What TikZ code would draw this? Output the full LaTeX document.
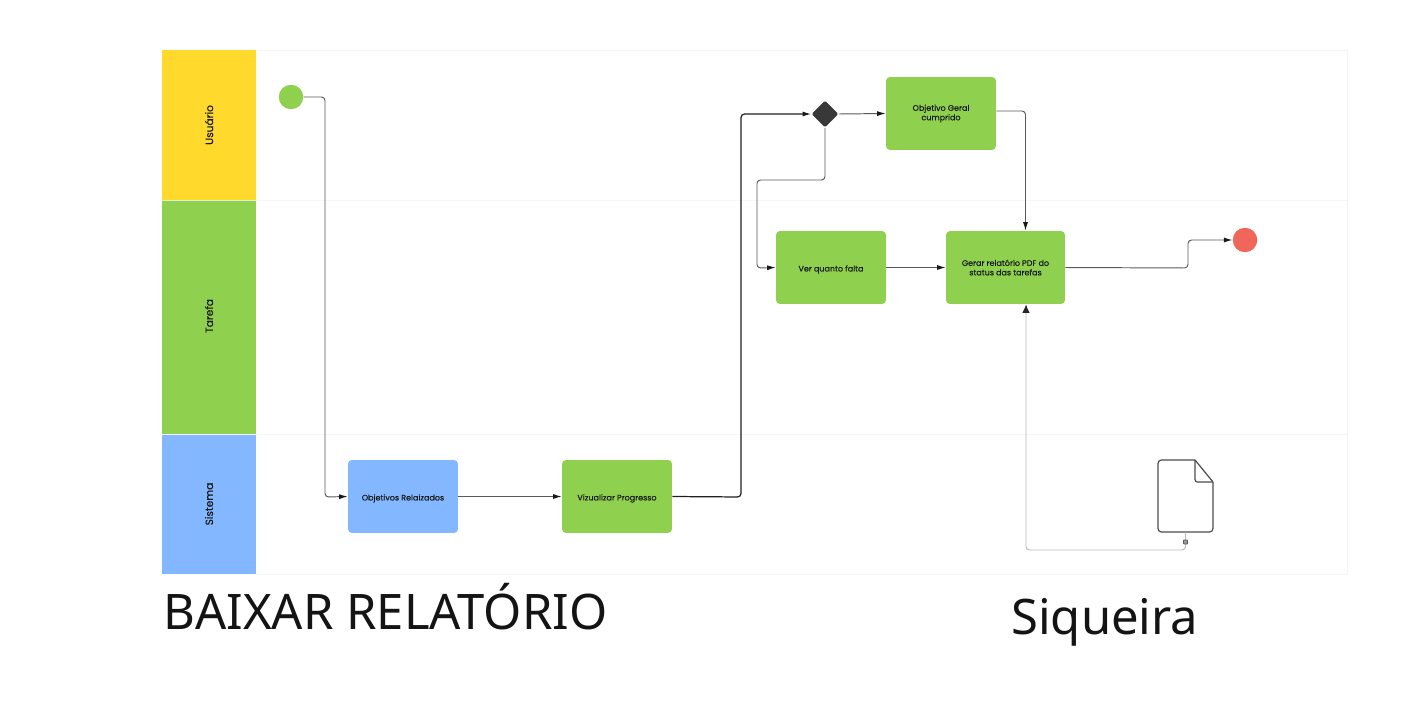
\documentclass[tikz,border=0pt]{standalone}
\usepackage{fontspec}
\setmainfont{Poppins}[FakeBold=0.25]
\newfontfamily\titlefont{Noto Sans}
\usetikzlibrary{arrows.meta,shapes.geometric}
\definecolor{laneyellow}{HTML}{FFDA2D}
\definecolor{lanegreen}{HTML}{8FD14F}
\definecolor{laneblue}{HTML}{83B7FF}
\definecolor{endred}{HTML}{F0665A}
\definecolor{gridgray}{HTML}{F5F5F5}
\begin{document}
\begin{tikzpicture}[x=0.02cm, y=-0.02cm,
  lane/.style={minimum width=1.88cm, inner sep=0pt},
  lanetext/.style={rotate=90, font=\fontsize{6}{7}\selectfont, text=black!90},
  task/.style={rectangle, rounded corners=0.08cm, minimum height=1.46cm, inner sep=0pt, align=center, font=\fontsize{4.55}{5.4}\selectfont, text=black!90, execute at begin node={\rule{0pt}{5.7pt}}},
  flow/.style={draw=black!65, line width=0.55pt, rounded corners=0.07cm, -{Latex[length=1.7mm, width=1mm, black!90]}},
  title/.style={font=\titlefont\fontsize{27.88}{30}\selectfont, text=black!92, inner sep=0pt, anchor=base west}]
  \useasboundingbox (0,0) rectangle (1407,710);
  % lanes
  \foreach \y in {50,200,434,574}
    \draw[gridgray, line width=0.4pt] (256,\y) -- (1347,\y);
  \draw[gridgray, line width=0.4pt] (1347,50) -- (1347,574);
  \node[lane, fill=laneyellow, minimum height=3cm] (usuario) at (209,125) {};
  \node[lane, fill=lanegreen, minimum height=4.68cm] (tarefa) at (209,317) {};
  \node[lane, fill=laneblue, minimum height=2.8cm] (sistema) at (209,504) {};
  \draw[white!70!lanegreen, line width=0.3pt] (usuario.south west) -- (usuario.south east);
  \draw[white, line width=0.3pt] (tarefa.south west) -- (tarefa.south east);
  \node[lanetext] (usuariotxt) at (209,125) {Usuário};
  \node[lanetext] (tarefatxt) at (209,316) {Tarefa};
  \node[lanetext] (sistematxt) at (209,504) {Sistema};
  % tasks
  \node[task, fill=laneblue, minimum width=2.2cm] (objetivos) at (403,496.5) {Objetivos Relaizados};
  \node[task, fill=lanegreen, minimum width=2.2cm] (vizualizar) at (617,496.5) {Vizualizar Progresso};
  \node[task, fill=lanegreen, minimum width=2.2cm] (verfalta) at (831,267.5) {Ver quanto falta};
  \node[task, fill=lanegreen, minimum width=2.38cm] (gerar) at (1005.5,267.5) {Gerar relatório PDF do\\status das tarefas};
  \node[task, fill=lanegreen, minimum width=2.2cm] (geral) at (941,113.5) {Objetivo Geral\\cumprido};
  \node[circle, fill=lanegreen, minimum size=0.49cm, inner sep=0pt] (inicio) at (291,97) {};
  \node[circle, fill=endred, minimum size=0.49cm, inner sep=0pt] (fim) at (1245,240) {};
  \node[diamond, fill=black!78, rounded corners=0.03cm, minimum size=0.54cm, inner sep=0pt] (decisao) at (825,114) {};
  % document
  \node[minimum width=1.1cm, minimum height=1.44cm, inner sep=0pt] (arquivo) at (1185.5,496) {};
  \draw[black!70, line width=0.7pt, rounded corners=0.07cm] (1195,460) -- (1158,460) -- (1158,532) -- (1213,532) -- (1213,482);
  \draw[black!70, line width=0.7pt, line join=round] (1213,482) -- (1195,460);
  \draw[black!70, line width=0.7pt, rounded corners=0.05cm] (1195,460) -- (1195,482) -- (1213,482);
  % flow
  \coordinate (c1) at (325,97);
  \coordinate (c2) at (325,497);
  \coordinate (c3) at (741,497);
  \coordinate (c4) at (741,114);
  \coordinate (c5) at (825,180);
  \coordinate (c6) at (757,180);
  \coordinate (c7) at (757,268);
  \coordinate (c8) at (1025.5,111);
  \coordinate (c9) at (1188,268);
  \coordinate (c10) at (1188,240);
  \coordinate (c11) at (1186,550);
  \coordinate (c12) at (1026,550);
  \draw[flow] (inicio.east) -- (c1) -- (c2) -- (objetivos.west);
  \draw[flow] (objetivos.east) -- (vizualizar.west);
  \draw[flow, draw=black!88, line width=0.7pt] (vizualizar.east) -- (c3) -- (c4) -- (decisao.west);
  \draw[flow] (decisao.east) -- (geral.west);
  \draw[flow] (decisao.south) -- (c5) -- (c6) -- (c7) -- (verfalta.west);
  \draw[flow] (verfalta.east) -- (gerar.west);
  \draw[flow] (geral.east |- c8) -- (c8) -- (c8 |- gerar.north);
  \draw[flow] (gerar.east) -- (c9) -- (c10) -- (fim.west);
  \draw[flow, draw=black!28, -{Latex[length=1.7mm, width=1.5mm, black!85]}] (arquivo.south) -- (arquivo.south |- c11) -- (c12) -- (c12 |- gerar.south);
  \node[draw=black!65, fill=black!40, rectangle, rounded corners=0.01cm, minimum size=0.08cm, inner sep=0pt, line width=0.4pt] (marca) at (1185.5,542) {};
  % titles
  \node[title] (baixar) at (163,629) {BAIXAR RELATÓRIO};
  \node[title] (siqueira) at (1011,634) {Siqueira};
\end{tikzpicture}
\end{document}
